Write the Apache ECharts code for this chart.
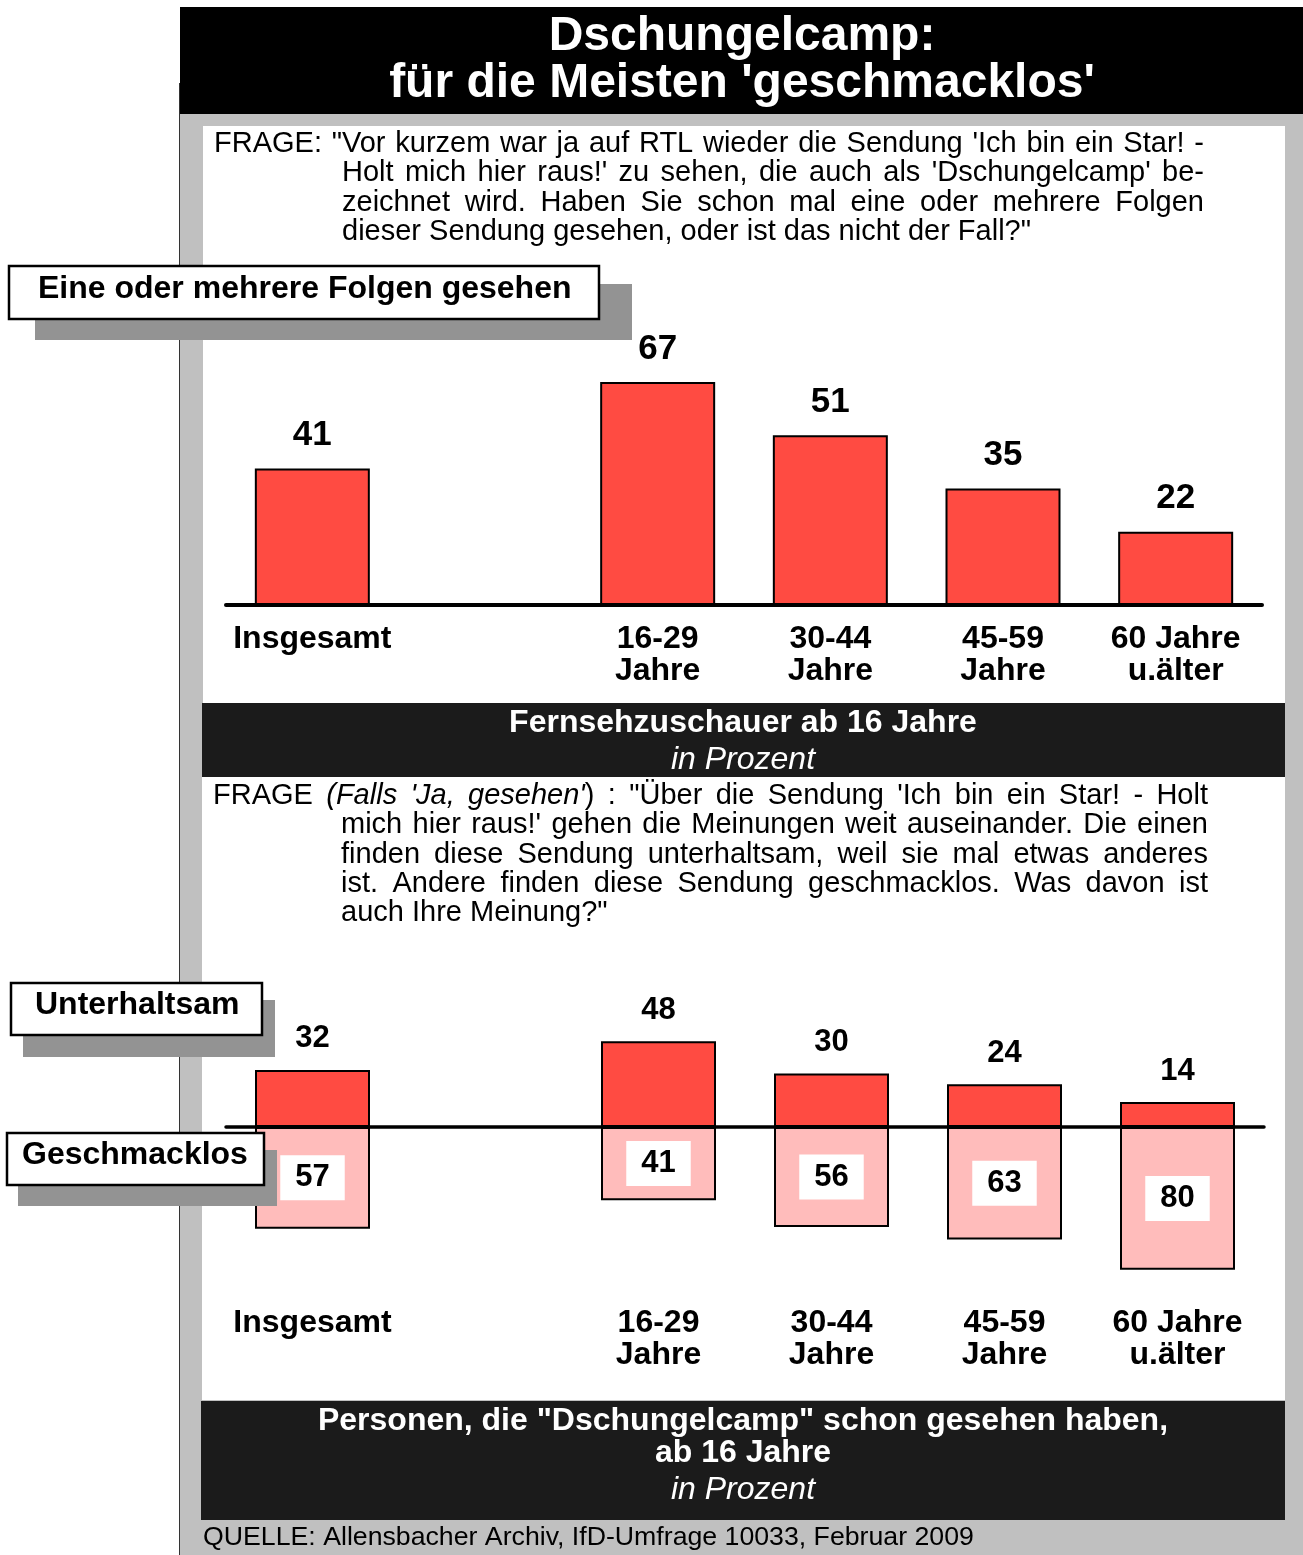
<!DOCTYPE html>
<html>
<head>
<meta charset="utf-8">
<script src="https://cdn.jsdelivr.net/npm/echarts@6/dist/echarts.min.js"></script>
<style>
html,body{margin:0;padding:0;background:#fff;}
#chart{width:1303px;height:1555px;}
</style>
</head>
<body>
<div id="chart"></div>
<script>
// ---------- data ----------
const categories = ['Insgesamt', '', '16-29\nJahre', '30-44\nJahre', '45-59\nJahre', '60 Jahre\nu.älter'];
const folgenGesehen = [41, null, 67, 51, 35, 22];
const unterhaltsam = [32, null, 48, 30, 24, 14];
const geschmacklos = [57, null, 41, 56, 63, 80];

const titleLines = ['Dschungelcamp:', "für die Meisten 'geschmacklos'"];
const question1 = [
  'FRAGE: "Vor kurzem war ja auf RTL wieder die Sendung \'Ich bin ein Star! -',
  "Holt mich hier raus!' zu sehen, die auch als 'Dschungelcamp' be-",
  'zeichnet wird. Haben Sie schon mal eine oder mehrere Folgen',
  'dieser Sendung gesehen, oder ist das nicht der Fall?"'
];
const question2 = [
  'FRAGE *(Falls \'Ja, gesehen\'*) : "Über die Sendung \'Ich bin ein Star! - Holt',
  "mich hier raus!' gehen die Meinungen weit auseinander. Die einen",
  'finden diese Sendung unterhaltsam, weil sie mal etwas anderes',
  'ist. Andere finden diese Sendung geschmacklos. Was davon ist',
  'auch Ihre Meinung?"'
];
const label1 = 'Eine oder mehrere Folgen gesehen';
const labelPos = 'Unterhaltsam';
const labelNeg = 'Geschmacklos';
const band1 = ['Fernsehzuschauer ab 16 Jahre', 'in Prozent'];
const band2 = ['Personen, die "Dschungelcamp" schon gesehen haben,', 'ab 16 Jahre', 'in Prozent'];
const source = 'QUELLE: Allensbacher Archiv, IfD-Umfrage 10033, Februar 2009';

// ---------- style ----------
const FF = '"Liberation Sans", Arial, Helvetica, sans-serif';
const RED = '#ff4b42';
const PINK = '#ffbcbb';
const PANEL = '#c0c0c0';
const SHADOW = '#939393';
const BAND = '#1b1b1b';

const ctx = document.createElement('canvas').getContext('2d');
function qFont(it) { return (it ? 'italic ' : '') + '29px ' + FF; }
function measure(t, it) { ctx.font = qFont(it); return ctx.measureText(t).width; }

function justify(lines, xFirst, xRest, xRight, y0, lh, out) {
  const state = { it: false };
  lines.forEach((line, li) => {
    const words = line.split(' ').filter(w => w.length).map(w => {
      const segs = [];
      w.split('*').forEach((p, i) => { if (i > 0) state.it = !state.it; if (p) segs.push({ t: p, it: state.it }); });
      return segs;
    });
    const widths = words.map(ws => ws.reduce((s, g) => s + measure(g.t, g.it), 0));
    const total = widths.reduce((a, b) => a + b, 0);
    const x0 = li === 0 ? xFirst : xRest;
    const last = li === lines.length - 1;
    const gap = last ? measure(' ', false) : (xRight - x0 - total) / (words.length - 1);
    let x = x0;
    const y = y0 + li * lh;
    words.forEach((ws) => {
      ws.forEach(g => {
        out.push({ type: 'text', x: x, y: y, z: 50,
          style: { text: g.t, font: qFont(g.it), fill: '#000', textAlign: 'left', textVerticalAlign: 'middle' } });
        x += measure(g.t, g.it);
      });
      x += gap;
    });
  });
}

const g = [];
// backgrounds
g.push({ type: 'rect', z: -20, shape: { x: 180, y: 83, width: 1123, height: 1472 }, style: { fill: PANEL } });
g.push({ type: 'line', z: -19, shape: { x1: 179.5, y1: 83, x2: 179.5, y2: 1555 }, style: { stroke: '#333', lineWidth: 1 } });
g.push({ type: 'rect', z: -18, shape: { x: 180, y: 7, width: 1123, height: 107 }, style: { fill: '#000' } });
g.push({ type: 'rect', z: -18, shape: { x: 203, y: 126, width: 1082, height: 577 }, style: { fill: '#fff' } });
g.push({ type: 'rect', z: -18, shape: { x: 202, y: 703, width: 1083, height: 74 }, style: { fill: BAND } });
g.push({ type: 'rect', z: -18, shape: { x: 202, y: 777, width: 1083, height: 623 }, style: { fill: '#fff' } });
g.push({ type: 'rect', z: -18, shape: { x: 201, y: 1401, width: 1084, height: 119 }, style: { fill: BAND } });

// title
titleLines.forEach((t, i) => g.push({ type: 'text', x: 742, y: 37 + i * 47, z: 50,
  style: { text: t, font: 'bold 48px ' + FF, fill: '#fff', textAlign: 'center', textVerticalAlign: 'middle' } }));

// questions
justify(question1, 214, 342, 1204, 144, 29.4, g);
justify(question2, 213, 341, 1208, 796, 29.3, g);

// bands
function bandText(t, y, style) {
  g.push({ type: 'text', x: 743, y: y, z: 50, style: { text: t, font: style + ' 32px ' + FF, fill: '#fff', textAlign: 'center', textVerticalAlign: 'middle' } });
}
bandText(band1[0], 723, 'bold');
bandText(band1[1], 760, 'italic');
bandText(band2[0], 1421, 'bold');
bandText(band2[1], 1453, 'bold');
bandText(band2[2], 1490, 'italic');

// source
g.push({ type: 'text', x: 203, y: 1538, z: 50, style: { text: source, font: '26.7px ' + FF, fill: '#000', textAlign: 'left', textVerticalAlign: 'middle' } });

// label boxes
function box(text, bx, by, bw, bh, sx, sy, sw, sh, tx, ty) {
  g.push({ type: 'rect', z: 100, shape: { x: sx, y: sy, width: sw, height: sh }, style: { fill: SHADOW } });
  g.push({ type: 'rect', z: 101, shape: { x: bx, y: by, width: bw, height: bh }, style: { fill: '#fff', stroke: '#000', lineWidth: 2.5 } });
  g.push({ type: 'text', x: tx, y: ty, z: 102, style: { text: text, font: 'bold 32px ' + FF, fill: '#000', textAlign: 'left', textVerticalAlign: 'middle' } });
}
box(label1, 9, 266, 590, 53, 35, 284, 597, 56, 38, 289);
box(labelPos, 11, 983, 251, 52, 23, 1000, 252, 57, 35, 1005);
box(labelNeg, 7, 1133, 257, 52, 18, 1150, 259, 56, 22, 1155);

const axisLabelStyle = { color: '#000', fontSize: 32, fontWeight: 'bold', fontFamily: FF, lineHeight: 32, interval: 0 };

const S1 = 3.33, S2 = 1.785;
const chart = echarts.init(document.getElementById('chart'), null, { renderer: 'canvas' });
chart.setOption({
  animation: false,
  backgroundColor: '#fff',
  graphic: { elements: g },
  grid: [
    { left: 226, top: 605 - 100 * S1, width: 1036, height: 100 * S1 },
    { left: 226, top: 1127 - 60 * S2, width: 1038, height: 150 * S2 }
  ],
  xAxis: [
    { gridIndex: 0, type: 'category', data: categories, z: 5,
      axisLine: { lineStyle: { color: '#000', width: 4 } }, axisTick: { show: false },
      axisLabel: Object.assign({ margin: 18 }, axisLabelStyle) },
    { gridIndex: 1, type: 'category', data: categories, position: 'bottom', z: 5,
      axisLine: { onZero: true, lineStyle: { color: '#000', width: 3.5 } }, axisTick: { show: false },
      axisLabel: { show: false } },
    { gridIndex: 1, type: 'category', data: categories, position: 'bottom',
      axisLine: { show: false, onZero: false }, axisTick: { show: false },
      axisLabel: Object.assign({ margin: 20 }, axisLabelStyle) }
  ],
  yAxis: [
    { gridIndex: 0, type: 'value', min: 0, max: 100, show: false },
    { gridIndex: 1, type: 'value', min: -90, max: 60, show: false }
  ],
  series: [
    { type: 'bar', xAxisIndex: 0, yAxisIndex: 0, data: folgenGesehen, barWidth: 115,
      itemStyle: { color: RED, borderColor: '#000', borderWidth: 2 },
      label: { show: true, position: 'top', distance: 15, color: '#000', fontSize: 35, fontWeight: 'bold', fontFamily: FF, lineHeight: 36 } },
    { type: 'bar', xAxisIndex: 1, yAxisIndex: 1, data: unterhaltsam, barWidth: 115, barGap: '-100%',
      itemStyle: { color: RED, borderColor: '#000', borderWidth: 2 },
      label: { show: true, position: 'top', distance: 15, color: '#000', fontSize: 31, fontWeight: 'bold', fontFamily: FF, lineHeight: 32 } },
    { type: 'bar', xAxisIndex: 1, yAxisIndex: 1, data: geschmacklos.map(v => v == null ? null : -v), barWidth: 115, barGap: '-100%',
      itemStyle: { color: PINK, borderColor: '#000', borderWidth: 2 },
      label: { show: true, position: 'inside', color: '#000', fontSize: 31, fontWeight: 'bold', fontFamily: FF, lineHeight: 32,
        backgroundColor: '#fff', padding: [7, 15, 6, 15],
        formatter: p => Math.abs(p.value) } }
  ]
});
</script>
</body>
</html>
